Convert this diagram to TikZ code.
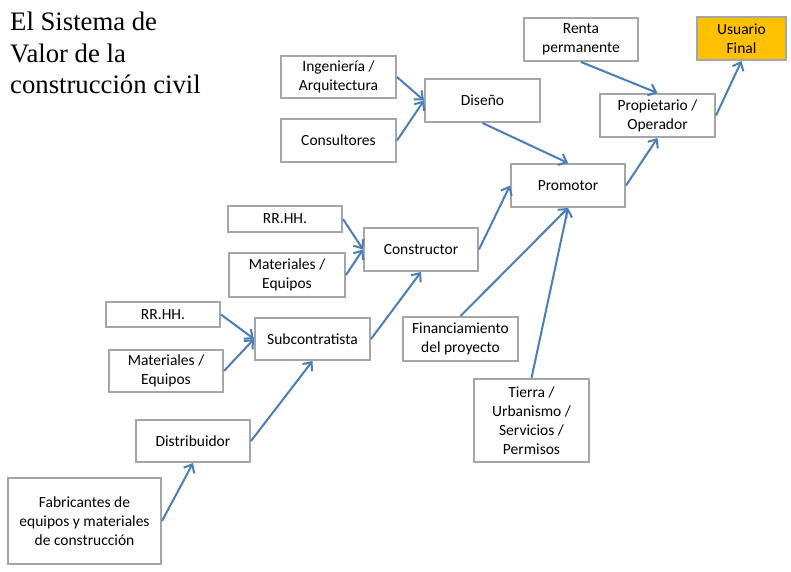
\documentclass[tikz,border=0pt]{standalone}
\usepackage{fontspec}
\setmainfont{Carlito}
\newfontfamily\titlefont{Liberation Serif}
\usepackage{tikz}
\usetikzlibrary{arrows.meta,positioning}

\definecolor{boxgray}{RGB}{166,166,166}
\definecolor{flowblue}{RGB}{74,126,187}
\definecolor{gold}{RGB}{255,192,0}

\begin{document}
\begin{tikzpicture}[
    x=1pt, y=-1pt,
    % --- STYLES ---
    box/.style={
        rectangle, draw=boxgray, fill=white,
        line width=2pt, inner sep=2pt,
        align=center, font=\fontsize{15.5}{19}\selectfont
    },
    final/.style={box, fill=gold},
    flow/.style={-{Straight Barb[length=7pt,width=12pt,line width=2pt]},
        draw=flowblue, line width=2pt}
]

\useasboundingbox (0,0) rectangle (791,571);

% ===== TITLE =====
\node[anchor=north west, inner sep=0pt, align=left,
      font=\titlefont\fontsize{26.7}{31.5}\selectfont] (title) at (10,12)
    {El Sistema de\\Valor de la\\construcción civil};

% ===== DESIGN SIDE =====
\node[box, minimum width=115pt, minimum height=42pt] (ing) at (338.5,77) {Ingeniería /\\Arquitectura};
\node[box, minimum width=115pt, minimum height=43pt] (cons) at (338.5,140.5) {Consultores};
\node[box, minimum width=115pt, minimum height=43pt] (diseno) at (482.5,100.5) {Diseño};

% ===== OWNER / USER =====
\node[box, minimum width=114pt, minimum height=43pt] (renta) at (581,39.5) {Renta\\permanente};
\node[final, minimum width=89pt, minimum height=43pt] (usuario) at (741.5,38.5) {Usuario\\Final};
\node[box, minimum width=115pt, minimum height=43pt] (prop) at (657.5,115.5) {Propietario /\\Operador};
\node[box, minimum width=114pt, minimum height=43pt] (promotor) at (568,185.5) {Promotor};

% ===== CONSTRUCTION =====
\node[box, minimum width=114pt, minimum height=26pt] (rrhhA) at (285,219) {RR.HH.};
\node[box, minimum width=116pt, minimum height=44pt] (matA) at (287,275) {Materiales /\\Equipos};
\node[box, minimum width=114pt, minimum height=43pt] (constructor) at (421,249.5) {Constructor};

\node[box, minimum width=114pt, minimum height=25pt] (rrhhB) at (163,314.5) {RR.HH.};
\node[box, minimum width=114pt, minimum height=42pt] (matB) at (166,371) {Materiales /\\Equipos};
\node[box, minimum width=115pt, minimum height=42pt] (sub) at (312.5,339) {Subcontratista};

\node[box, minimum width=115pt, minimum height=44pt] (fin) at (460.5,339) {Financiamiento\\del proyecto};
\node[box, minimum width=115pt, minimum height=83pt] (tierra) at (531.5,420.5) {Tierra /\\Urbanismo /\\Servicios /\\Permisos};

% ===== SUPPLY =====
\node[box, minimum width=114pt, minimum height=42pt] (dist) at (193,441) {Distribuidor};
\node[box, minimum width=153pt, minimum height=86pt] (fab) at (84.5,521) {Fabricantes de\\equipos y materiales\\de construcción};

% ===== CONNECTIONS =====
\draw[flow] (ing.east) -- (diseno.west);
\draw[flow] (cons.east) -- (diseno.west);
\draw[flow] (diseno.south) -- (promotor.north);

\draw[flow] (renta.south) -- (prop.north);
\draw[flow] (prop.east) -- (usuario.south);
\draw[flow] (promotor.east) -- (prop.south);

\draw[flow] (rrhhA.east) -- (constructor.west);
\draw[flow] (matA.east) -- (constructor.west);
\draw[flow] (constructor.east) -- (promotor.west);

\draw[flow] (rrhhB.east) -- (sub.west);
\draw[flow] (matB.east) -- (sub.west);
\draw[flow] (sub.east) -- (constructor.south);

\draw[flow] (fin.north) -- (promotor.south);
\draw[flow] (tierra.north) -- (promotor.south);

\draw[flow] (fab.east) -- (dist.south);
\draw[flow] (dist.east) -- (sub.south);

\end{tikzpicture}
\end{document}
